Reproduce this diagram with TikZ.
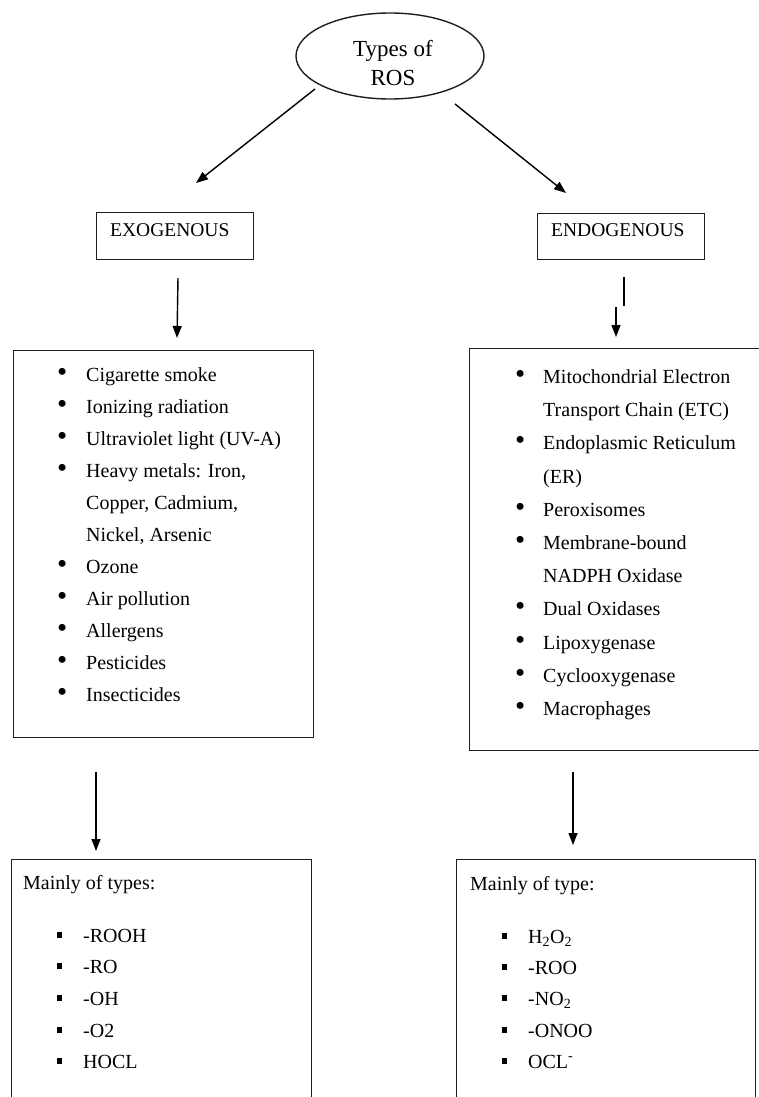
\documentclass[tikz,border=0pt]{standalone}
\usepackage{fontspec}
\setmainfont{Liberation Serif}
\usetikzlibrary{shapes.geometric,arrows.meta}
\definecolor{linec}{RGB}{30,30,30}
\newcommand{\rosbul}{\scalebox{1.45}{\textbullet}}
\begin{document}
\begin{tikzpicture}[x=1pt,y=-1pt,
  boxst/.style={draw=linec, line width=1.4pt, rectangle, inner sep=0pt, anchor=north west},
  arr/.style={draw=black, line width=1.4pt, -{Triangle[length=12pt,width=9pt]}},
  plainline/.style={draw=black, line width=1.4pt},
  txt/.style={anchor=base west, inner sep=0pt, font=\fontsize{20}{24}\selectfont},
]
\useasboundingbox (0,0) rectangle (759,1097);

% title
\node[ellipse, draw=linec, line width=1.4pt, minimum width=188pt, minimum height=86pt, inner sep=0pt] (ros) at (390,56) {};
\node[align=center, inner sep=0pt, font=\fontsize{23}{29}\selectfont] (rosT) at (393,63) {Types of\\ROS};

% category boxes
\node[boxst, minimum width=157pt, minimum height=47pt] (exo) at (96,212) {};
\node[txt, font=\fontsize{19.5}{24}\selectfont] (exoT) at (110,236) {EXOGENOUS};
\node[boxst, minimum width=167pt, minimum height=46pt] (endo) at (537,213) {};
\node[txt, font=\fontsize{19.5}{24}\selectfont] (endoT) at (551,236) {ENDOGENOUS};

% source boxes
\node[boxst, minimum width=300pt, minimum height=387pt] (exoL) at (13,350) {};
\node[boxst, minimum width=293pt, minimum height=402pt] (endoL) at (469,348) {};

\foreach \y/\b/\t [count=\i] in {381/1/Cigarette smoke, 413/1/Ionizing radiation, 445/1/Ultraviolet light (UV-A), 477/1/{Heavy metals: Iron,}, 509/0/{Copper, Cadmium,}, 541/0/{Nickel, Arsenic}, 573/1/Ozone, 605/1/Air pollution, 637/1/Allergens, 669/1/Pesticides, 701/1/Insecticides}
  \node[txt] (exI\i) at (57,\y) {\ifnum\b=1 \makebox[29pt][l]{\rosbul}\else\hspace*{29pt}\fi\t};

\foreach \y/\b/\t [count=\i] in {383/1/Mitochondrial Electron, 416/0/Transport Chain (ETC), 449/1/Endoplasmic Reticulum, 483/0/(ER), 516/1/Peroxisomes, 549/1/Membrane-bound, 582/0/NADPH Oxidase, 615/1/Dual Oxidases, 649/1/Lipoxygenase, 682/1/Cyclooxygenase, 715/1/Macrophages}
  \node[txt] (enI\i) at (515,\y) {\ifnum\b=1 \makebox[28pt][l]{\rosbul}\else\hspace*{28pt}\fi\t};

% type boxes
\node[boxst, minimum width=300pt, minimum height=246pt] (exoY) at (11,859) {};
\node[boxst, minimum width=299pt, minimum height=246pt] (endoY) at (456,859) {};
\node[txt] (exoYT) at (23,889) {Mainly of types:};
\node[txt] (endoYT) at (470,890) {Mainly of type:};

\foreach \y/\t [count=\i] in {942/-ROOH, 973/-RO, 1005/-OH, 1037/-O2, 1068/HOCL}
  \node[txt] (exY\i) at (57,\y) {\makebox[26pt][l]{\rule[4pt]{5pt}{6pt}}\t};
\foreach \y/\t [count=\i] in {943/H\textsubscript{2}O\textsubscript{2}, 974/-ROO, 1005/-NO\textsubscript{2}, 1037/-ONOO, 1068/OCL\textsuperscript{-}}
  \node[txt] (enY\i) at (502,\y) {\makebox[26pt][l]{\rule[4pt]{5pt}{6pt}}\t};

% connector end points
\coordinate (a1s) at (315,89);  \coordinate (a1e) at (196,183);
\coordinate (a2s) at (455,104); \coordinate (a2e) at (566,193);
\coordinate (a3s) at (178,278); \coordinate (a3e) at (177,338);
\coordinate (a4s) at (624,277); \coordinate (a4m) at (624,306);
\coordinate (a4b) at (616,307); \coordinate (a4e) at (616,337);
\coordinate (a5s) at (96,772);  \coordinate (a5e) at (96,851);
\coordinate (a6s) at (573,772); \coordinate (a6e) at (573,845);

\draw[arr] (a1s) -- (a1e);
\draw[arr] (a2s) -- (a2e);
\draw[arr] (a3s) -- (a3e);
\draw[plainline] (a4s) -- (a4m);
\draw[arr] (a4b) -- (a4e);
\draw[arr] (a5s) -- (a5e);
\draw[arr] (a6s) -- (a6e);
\end{tikzpicture}
\end{document}
